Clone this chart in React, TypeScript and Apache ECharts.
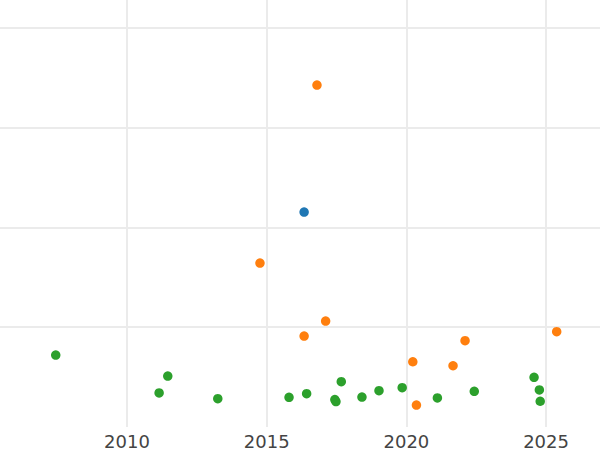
import React, { useEffect, useRef } from "react";
import * as echarts from "echarts";

const blueX = [2016.34];
const blueY = [2.154];

const orangeX = [2016.8, 2014.76, 2016.34, 2017.11, 2020.23, 2020.36, 2021.67, 2022.1, 2025.38];
const orangeY = [3.427, 1.643, 0.912, 1.062, 0.654, 0.22, 0.614, 0.865, 0.955];

const greenX = [2007.45, 2011.15, 2011.46, 2013.25, 2015.8, 2016.43, 2017.44, 2017.48, 2017.67, 2018.41, 2019.02, 2019.85, 2021.11, 2022.43, 2024.57, 2024.76, 2024.79];
const greenY = [0.721, 0.341, 0.511, 0.284, 0.298, 0.334, 0.275, 0.255, 0.454, 0.3, 0.364, 0.394, 0.291, 0.358, 0.498, 0.371, 0.258];

const xTicks = [2010, 2015, 2020, 2025];

const zip = (xs: number[], ys: number[]) => xs.map((x, i) => [x, ys[i]]);

export default function App() {
  const ref = useRef<HTMLDivElement>(null);
  useEffect(() => {
    if (!ref.current) return;
    const chart = echarts.init(ref.current, undefined, { renderer: "svg" });
    chart.setOption({
      animation: false,
      backgroundColor: "#ffffff",
      grid: { left: 0, right: 0, top: 0, bottom: 23, containLabel: false },
      xAxis: {
        type: "value",
        min: 2005.455,
        max: 2026.93,
        splitNumber: 4,
        axisLine: { show: false },
        axisTick: { show: false },
        axisLabel: {
          color: "#444444",
          fontSize: 18,
          fontFamily: "DejaVu Sans",
          margin: 5,
          showMinLabel: false,
          showMaxLabel: false,
          formatter: (v: number) => (xTicks.includes(v) ? String(v) : ""),
        },
        splitLine: {
          show: true,
          showMinLine: false,
          showMaxLine: false,
          lineStyle: { color: "#ebebeb", width: 2 },
        },
      },
      yAxis: {
        type: "value",
        min: 0,
        max: 4.28,
        interval: 1,
        axisLine: { show: false },
        axisTick: { show: false },
        axisLabel: { show: false },
        splitLine: {
          show: true,
          showMinLine: false,
          showMaxLine: false,
          lineStyle: { color: "#ebebeb", width: 2 },
        },
      },
      series: [
        {
          type: "scatter",
          data: zip(blueX, blueY),
          symbolSize: 9.5,
          itemStyle: { color: "#1f77b4", opacity: 1 },
        },
        {
          type: "scatter",
          data: zip(orangeX, orangeY),
          symbolSize: 9.5,
          itemStyle: { color: "#ff7f0e", opacity: 1 },
        },
        {
          type: "scatter",
          data: zip(greenX, greenY),
          symbolSize: 9.5,
          itemStyle: { color: "#2ca02c", opacity: 1 },
        },
      ],
    });
    return () => chart.dispose();
  }, []);
  return <div ref={ref} style={{ width: 600, height: 450, position: "fixed", left: 0, top: 0 }} />;
}
